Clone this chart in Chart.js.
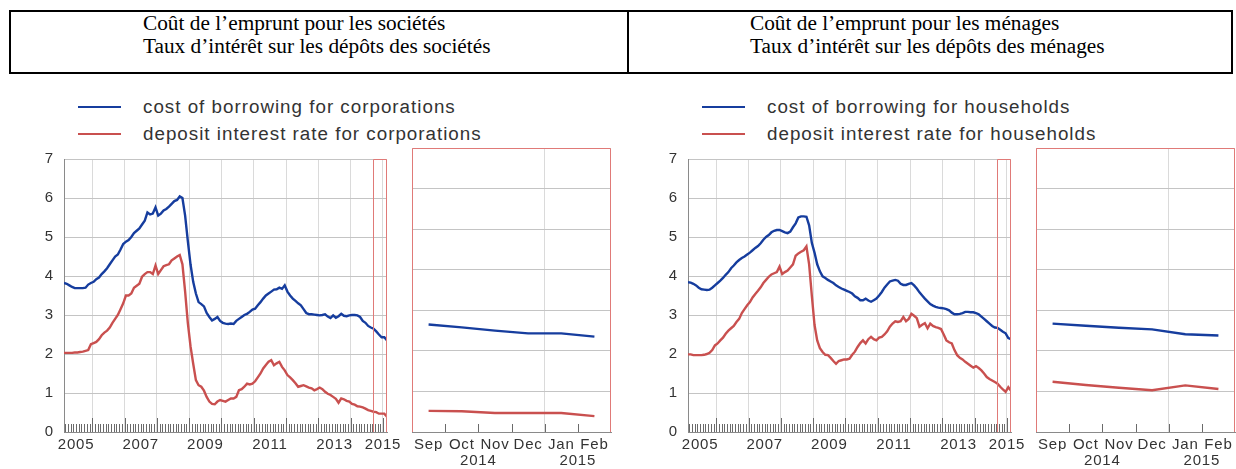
<!DOCTYPE html>
<html>
<head>
<meta charset="utf-8">
<script src="https://cdn.jsdelivr.net/npm/chart.js@4.4.0/dist/chart.umd.min.js"></script>
<style>
  html, body { margin: 0; padding: 0; background: #fff; }
  body { width: 1236px; height: 469px; position: relative; overflow: hidden; }
  .box { position: absolute; left: 9px; top: 10px; width: 1224px; height: 64px; box-sizing: border-box; border: 2px solid #000; }
  .divider { position: absolute; left: 627px; top: 10px; width: 2px; height: 64px; background: #000; }
  .hdr { position: absolute; top: 12px; font-family: "Liberation Serif", "Times New Roman", serif; font-size: 21.3px; line-height: 23px; color: #000; white-space: nowrap; }
  .legend { position: absolute; top: 93px; font-family: "Liberation Sans", Arial, sans-serif; font-size: 18.8px; letter-spacing: 1px; color: #333; line-height: 27px; }
  .legend .row { position: relative; padding-left: 65px; white-space: nowrap; }
  .legend .sw { position: absolute; left: 0; top: 13px; width: 43px; height: 2px; }
  canvas { position: absolute; }
</style>
</head>
<body>
<div class="box"></div>
<div class="divider"></div>
<div class="hdr" style="left:143px">Coût de l’emprunt pour les sociétés<br>Taux d’intérêt sur les dépôts des sociétés</div>
<div class="hdr" style="left:750px">Coût de l’emprunt pour les ménages<br>Taux d’intérêt sur les dépôts des ménages</div>

<div class="legend" id="legA" style="left:78px"></div>
<div class="legend" id="legB" style="left:702px"></div>

<canvas id="longA" width="405" height="329" style="left:0px;top:140px"></canvas>
<canvas id="zoomA" width="224" height="329" style="left:400px;top:140px"></canvas>
<canvas id="longB" width="405" height="329" style="left:624px;top:140px"></canvas>
<canvas id="zoomB" width="212" height="329" style="left:1024px;top:140px"></canvas>

<script>
// ─────────────────────────────────────────
// DATA — monthly, Feb 2005 .. Feb 2015
// ─────────────────────────────────────────
const START_YEAR = 2005;
const START_MONTH = 2;

const corpBorrowing = [
  3.82, 3.80, 3.76, 3.72, 3.69, 3.69, 3.69, 3.69, 3.70, 3.78, 3.82,
  3.85, 3.92, 3.96, 4.05, 4.12, 4.20, 4.30, 4.40, 4.50, 4.55, 4.68, 4.82,
  4.88, 4.92, 5.00, 5.10, 5.16, 5.22, 5.32, 5.42, 5.63, 5.58, 5.60, 5.76,
  5.55, 5.60, 5.68, 5.72, 5.78, 5.85, 5.92, 5.95, 6.04, 6.00, 5.55, 4.90,
  4.30, 3.85, 3.55, 3.33, 3.28, 3.22, 3.05, 2.95, 2.86, 2.90, 2.95, 2.85,
  2.80, 2.78, 2.77, 2.78, 2.77, 2.85, 2.90, 2.95, 3.00, 3.03, 3.08, 3.14,
  3.16, 3.25, 3.33, 3.42, 3.50, 3.55, 3.60, 3.65, 3.66, 3.70, 3.67, 3.76,
  3.60, 3.50, 3.42, 3.36, 3.30, 3.25, 3.15, 3.05, 3.02, 3.02, 3.01, 3.00,
  2.99, 3.00, 3.02, 2.96, 2.92, 2.99, 2.93, 2.97, 3.03, 2.98, 2.97, 2.99,
  3.00, 3.00, 2.99, 2.95, 2.85, 2.80, 2.72, 2.68, 2.65, 2.58, 2.50, 2.43,
  2.43, 2.35,
];
const corpDeposit = [
  2.03, 2.03, 2.03, 2.03, 2.04, 2.04, 2.05, 2.06, 2.08, 2.10, 2.25,
  2.28, 2.31, 2.38, 2.48, 2.55, 2.60, 2.68, 2.80, 2.90, 3.00, 3.15, 3.30,
  3.50, 3.50, 3.55, 3.70, 3.75, 3.80, 3.98, 4.05, 4.10, 4.10, 4.05, 4.27,
  4.05, 4.15, 4.25, 4.28, 4.30, 4.40, 4.45, 4.50, 4.54, 4.30, 3.60, 2.80,
  2.20, 1.75, 1.33, 1.20, 1.16, 1.06, 0.90, 0.78, 0.72, 0.71, 0.78, 0.82,
  0.80, 0.78, 0.82, 0.86, 0.86, 0.90, 1.07, 1.10, 1.16, 1.24, 1.22, 1.24,
  1.30, 1.40, 1.50, 1.63, 1.72, 1.80, 1.84, 1.71, 1.76, 1.80, 1.67, 1.58,
  1.46, 1.40, 1.33, 1.25, 1.16, 1.18, 1.20, 1.17, 1.14, 1.12, 1.07, 1.10,
  1.14, 1.10, 1.03, 0.98, 0.95, 0.90, 0.85, 0.75, 0.86, 0.84, 0.80, 0.78,
  0.72, 0.70, 0.66, 0.65, 0.63, 0.60, 0.56, 0.54, 0.52, 0.51, 0.47, 0.47,
  0.47, 0.39,
];
const hhBorrowing = [
  3.84, 3.83, 3.80, 3.76, 3.70, 3.66, 3.65, 3.64, 3.65, 3.70, 3.76,
  3.82, 3.88, 3.95, 4.03, 4.10, 4.20, 4.27, 4.35, 4.41, 4.46, 4.50, 4.55,
  4.60, 4.66, 4.72, 4.77, 4.84, 4.93, 5.00, 5.05, 5.12, 5.16, 5.18, 5.18,
  5.15, 5.12, 5.10, 5.14, 5.25, 5.35, 5.50, 5.53, 5.53, 5.52, 5.30, 4.85,
  4.60, 4.30, 4.12, 3.99, 3.95, 3.90, 3.86, 3.82, 3.76, 3.72, 3.68, 3.65,
  3.62, 3.59, 3.55, 3.48, 3.44, 3.38, 3.38, 3.42, 3.37, 3.34, 3.38, 3.42,
  3.50, 3.59, 3.70, 3.78, 3.86, 3.88, 3.90, 3.88, 3.80, 3.77, 3.77, 3.80,
  3.82, 3.76, 3.68, 3.58, 3.50, 3.42, 3.35, 3.28, 3.24, 3.21, 3.19, 3.18,
  3.17, 3.15, 3.12, 3.06, 3.02, 3.02, 3.03, 3.05, 3.08, 3.08, 3.07, 3.07,
  3.05, 3.02, 2.96, 2.90, 2.84, 2.78, 2.72, 2.68, 2.67, 2.62, 2.57, 2.53,
  2.41, 2.38,
];
const hhDeposit = [
  1.99, 1.99, 1.97, 1.97, 1.97, 1.97, 1.98, 2.00, 2.03, 2.10, 2.22,
  2.27, 2.35, 2.42, 2.52, 2.60, 2.66, 2.72, 2.82, 2.90, 3.05, 3.15, 3.25,
  3.33, 3.45, 3.54, 3.62, 3.71, 3.82, 3.90, 3.98, 4.04, 4.07, 4.10, 4.24,
  4.05, 4.10, 4.14, 4.22, 4.30, 4.52, 4.58, 4.62, 4.66, 4.76, 4.30, 3.50,
  2.75, 2.35, 2.15, 2.05, 1.98, 1.97, 1.90, 1.82, 1.75, 1.82, 1.84, 1.86,
  1.86, 1.88, 1.98, 2.06, 2.18, 2.28, 2.35, 2.27, 2.38, 2.44, 2.38, 2.35,
  2.42, 2.44, 2.50, 2.58, 2.70, 2.78, 2.84, 2.82, 2.84, 2.95, 2.84, 2.90,
  3.03, 2.98, 2.92, 2.70, 2.75, 2.79, 2.66, 2.78, 2.72, 2.69, 2.67, 2.64,
  2.50, 2.35, 2.30, 2.27, 2.10, 1.97, 1.90, 1.86, 1.80, 1.75, 1.70, 1.65,
  1.69, 1.64, 1.58, 1.50, 1.41, 1.36, 1.32, 1.28, 1.24, 1.16, 1.09, 1.03,
  1.15, 1.06,
];

const yearLabels = [2005, 2007, 2009, 2011, 2013, 2015];
const zoomMonths = ['Sep', 'Oct', 'Nov', 'Dec', 'Jan', 'Feb'];
const zoomYearGroups = [['2014', 4], ['2015', 2]];
const yTicks = [0, 1, 2, 3, 4, 5, 6, 7];

const legendA = ['cost of borrowing for corporations', 'deposit interest rate for corporations'];
const legendB = ['cost of borrowing for households', 'deposit interest rate for households'];

// ─────────────────────────────────────────
// STYLE
// ─────────────────────────────────────────
const BLUE = '#163d9e';
const RED = '#c9504f';
const GRID_H = '#c4c4c4';
const GRID_V = '#dadada';
const AXIS = '#8a8a8a';
const TICK = '#6a6a6a';
const FRAME = '#e07a78';
const TEXT = '#333';
const FONT = { family: "'Liberation Sans', Arial, sans-serif", size: 15 };

// ─────────────────────────────────────────
// PLUGINS
// ─────────────────────────────────────────
const spacing = {
  id: 'spacing',
  beforeDraw(chart) { chart.ctx.letterSpacing = '0.8px'; },
};

// short monthly marks standing on the x axis
const monthMarks = {
  id: 'monthMarks',
  beforeDatasetsDraw(chart, args, opts) {
    const { ctx, chartArea: a } = chart;
    const x = chart.scales.x;
    ctx.save();
    ctx.strokeStyle = TICK;
    ctx.lineWidth = 1;
    for (const m of opts.marks) {
      const px = Math.round(x.getPixelForValue(m.v)) + 0.5;
      ctx.beginPath();
      ctx.moveTo(px, a.bottom);
      ctx.lineTo(px, a.bottom - m.len);
      ctx.stroke();
    }
    ctx.restore();
  },
};

// thin red frame marking the zoomed period
const zoomFrame = {
  id: 'zoomFrame',
  afterDatasetsDraw(chart, args, opts) {
    const { ctx, chartArea: a } = chart;
    const left = opts.from === undefined ? a.left : chart.scales.x.getPixelForValue(opts.from);
    ctx.save();
    ctx.strokeStyle = FRAME;
    ctx.lineWidth = 1;
    ctx.beginPath();
    ctx.moveTo(Math.round(left) + 0.5, a.bottom);
    ctx.lineTo(Math.round(left) + 0.5, a.top + 0.5);
    ctx.lineTo(Math.round(a.right) - 0.5, a.top + 0.5);
    ctx.lineTo(Math.round(a.right) - 0.5, a.bottom);
    ctx.stroke();
    ctx.restore();
  },
};

function monthX(i) {
  return START_YEAR + (START_MONTH - 1 + i + 0.5) / 12;
}

function lineSet(values, xs, color) {
  return {
    data: values.map((v, i) => ({ x: xs[i], y: v })),
    borderColor: color,
    borderWidth: 2.4,
    pointRadius: 0,
    tension: 0,
  };
}

function yAxis(showLabels) {
  return {
    min: 0,
    max: 7,
    afterBuildTicks: s => { s.ticks = yTicks.map(v => ({ value: v })); },
    ticks: { display: showLabels, padding: 10, font: FONT, color: TEXT },
    grid: { color: GRID_H, drawTicks: false },
    border: { display: showLabels, color: AXIS },
    afterFit: s => { s.width = showLabels ? 64 : 0; },
  };
}

// ─────────────────────────────────────────
// CHARTS
// ─────────────────────────────────────────
function longChart(id, borrowing, deposit) {
  const xs = borrowing.map((_, i) => monthX(i));
  const xMin = xs[0];
  const xMax = xs[xs.length - 1];
  const years = [];
  for (let y = Math.ceil(xMin); y <= Math.floor(xMax); y++) years.push(y);
  const marks = [];
  for (let k = Math.ceil(xMin * 12); k <= Math.floor(xMax * 12); k++) {
    marks.push({ v: k / 12, len: k % 12 === 0 ? 14 : 8 });
  }

  return new Chart(document.getElementById(id), {
    type: 'line',
    data: { datasets: [lineSet(borrowing, xs, BLUE), lineSet(deposit, xs, RED)] },
    options: {
      responsive: false,
      animation: false,
      layout: { padding: { top: 8, right: 18, left: 0, bottom: 0 } },
      plugins: {
        legend: { display: false },
        tooltip: { enabled: false },
        monthMarks: { marks },
        zoomFrame: { from: xs[xs.length - zoomMonths.length] - 0.01 },
      },
      scales: {
        x: {
          type: 'linear',
          min: xMin,
          max: xMax,
          weight: 0,
          afterBuildTicks: s => { s.ticks = years.map(v => ({ value: v })); },
          ticks: { display: false },
          grid: { color: GRID_V, drawTicks: false },
          border: { color: AXIS },
          afterFit: s => { s.height = 0; },
        },
        xl: {
          type: 'linear',
          position: 'bottom',
          min: xMin,
          max: xMax,
          weight: 1,
          afterBuildTicks: s => {
            s.ticks = yearLabels.map(y => ({ value: y + 0.5 <= xMax ? y + 0.5 : y }));
          },
          ticks: {
            autoSkip: false, maxRotation: 0, padding: 4, font: FONT, color: TEXT,
            callback: v => String(Math.floor(v)),
          },
          grid: { display: false, drawTicks: false },
          border: { display: false },
          afterFit: s => { s.height = 37; },
        },
        y: yAxis(true),
      },
    },
    plugins: [spacing, monthMarks, zoomFrame],
  });
}

function zoomChart(id, borrowing, deposit, padLeft, padRight) {
  const n = zoomMonths.length;
  const xs = zoomMonths.map((_, i) => i + 0.5);
  const b = borrowing.slice(-n);
  const d = deposit.slice(-n);
  let acc = 0;
  const yearPos = zoomYearGroups.map(([label, count]) => {
    const mid = acc + count / 2;
    acc += count;
    return { label, mid, end: acc };
  });
  const boundaries = yearPos.slice(0, -1).map(g => g.end);
  const marks = [];
  for (let k = 1; k < n; k++) marks.push({ v: k, len: 8 });

  return new Chart(document.getElementById(id), {
    type: 'line',
    data: { datasets: [lineSet(b, xs, BLUE), lineSet(d, xs, RED)] },
    options: {
      responsive: false,
      animation: false,
      layout: { padding: { top: 8, right: padRight, left: padLeft, bottom: 0 } },
      plugins: {
        legend: { display: false },
        tooltip: { enabled: false },
        monthMarks: { marks },
        zoomFrame: {},
      },
      scales: {
        x: {
          type: 'linear',
          min: 0,
          max: n,
          weight: 0,
          afterBuildTicks: s => { s.ticks = boundaries.map(v => ({ value: v })); },
          ticks: { display: false },
          grid: { color: GRID_V, drawTicks: false },
          border: { color: AXIS },
          afterFit: s => { s.height = 0; },
        },
        xm: {
          type: 'linear',
          position: 'bottom',
          min: 0,
          max: n,
          weight: 1,
          afterBuildTicks: s => { s.ticks = xs.map(v => ({ value: v })); },
          ticks: {
            autoSkip: false, maxRotation: 0, padding: 4, font: FONT, color: TEXT,
            callback: (v, i) => zoomMonths[i],
          },
          grid: { display: false, drawTicks: false },
          border: { display: false },
          afterFit: s => { s.height = 19; },
        },
        xy: {
          type: 'linear',
          position: 'bottom',
          min: 0,
          max: n,
          weight: 2,
          afterBuildTicks: s => { s.ticks = yearPos.map(g => ({ value: g.mid })); },
          ticks: {
            autoSkip: false, maxRotation: 0, padding: 1, font: FONT, color: TEXT,
            callback: (v, i) => yearPos[i].label,
          },
          grid: { display: false, drawTicks: false },
          border: { display: false },
          afterFit: s => { s.height = 18; },
        },
        y: yAxis(false),
      },
    },
    plugins: [spacing, monthMarks, zoomFrame],
  });
}

function legend(id, labels) {
  const el = document.getElementById(id);
  [BLUE, RED].forEach((c, i) => {
    const row = document.createElement('div');
    row.className = 'row';
    row.innerHTML = `<span class="sw" style="background:${c}"></span>${labels[i]}`;
    el.appendChild(row);
  });
}

legend('legA', legendA);
legend('legB', legendB);
longChart('longA', corpBorrowing, corpDeposit);
zoomChart('zoomA', corpBorrowing, corpDeposit, 12, 13);
longChart('longB', hhBorrowing, hhDeposit);
zoomChart('zoomB', hhBorrowing, hhDeposit, 12, 1);
</script>
</body>
</html>
